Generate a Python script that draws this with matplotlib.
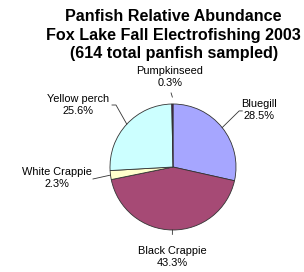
import numpy as np
import matplotlib
matplotlib.use("Agg")
import matplotlib.pyplot as plt

# data
species = ["Bluegill", "Black Crappie", "White Crappie", "Yellow perch", "Pumpkinseed"]
percent = [28.5, 43.3, 2.3, 25.6, 0.3]
colors = ["#A6A6FF", "#A64A75", "#FFFFCC", "#CCFFFF", "#660066"]

# label text centres (data units, pie radius = 1) and leader bends/ends
label_pos = [(1.365, 0.905), (-0.016, -1.43), (-1.84, -0.175), (-1.51, 0.99), (-0.05, 1.43)]
leader_pts = [[(1.05, 0.89), (1.10, 0.89)],
              [(-0.01, -1.07)],
              [(-1.27, -0.19)],
              [(-0.905, 0.984), (-0.968, 0.984)],
              [(-0.03, 1.175)]]

plt.rcParams['font.family'] = ['Liberation Sans', 'DejaVu Sans']

fig = plt.figure(figsize=(3.04, 2.72), dpi=100)
ax = fig.add_axes([0, 0, 1, 1])
R = 63.0
cx, cy = 173, 167

wedges, _ = ax.pie(percent, colors=colors, startangle=90, counterclock=False,
                   radius=1.0, wedgeprops=dict(edgecolor="#333333", linewidth=0.6))

ax.set_xlim(-cx / R, (304 - cx) / R)
ax.set_ylim(-(272 - cy) / R, cy / R)
ax.set_aspect('equal')
ax.axis('off')

for w, name, p, (tx, ty), pts in zip(wedges, species, percent, label_pos, leader_pts):
    ang = np.deg2rad((w.theta1 + w.theta2) / 2)
    r0 = 1.11 if name == "Pumpkinseed" else 1.0
    xs = [np.cos(ang) * r0] + [q[0] for q in pts]
    ys = [np.sin(ang) * r0] + [q[1] for q in pts]
    ax.plot(xs, ys, color="#333333", lw=0.6)
    ax.text(tx, ty, f"{name}\n{p}%", ha='center', va='center', fontsize=7.9,
            linespacing=1.25)

fig.text(0.571, 0.871, "Panfish Relative Abundance\nFox Lake Fall Electrofishing 2003\n(614 total panfish sampled)",
         ha='center', va='center', fontsize=11.6, fontweight='bold', linespacing=1.32)

fig.savefig("out.png", dpi=100)
